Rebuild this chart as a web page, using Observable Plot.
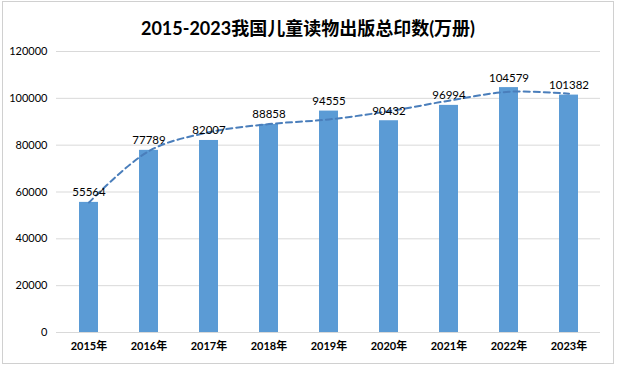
<!DOCTYPE html>
<html>
<head>
<meta charset="utf-8">
<script src="https://cdn.jsdelivr.net/npm/d3@7"></script>
<script src="https://cdn.jsdelivr.net/npm/@observablehq/plot@0.6"></script>
<style>
  html, body { margin: 0; padding: 0; background: #fff; }
  #chart {
    position: absolute; left: 2px; top: 1px;
    width: 610px; height: 361px;
    border: 1px solid #d0d0d0;
    font-family: Lato, "Noto Sans CJK SC", sans-serif;
  }
  #title {
    height: 40px; line-height: 52px; text-align: center;
    font-size: 18px; font-weight: bold; color: #000;
    font-family: Lato, "Noto Sans CJK SC", sans-serif;
  }
  svg { display: block; }
</style>
</head>
<body>
<div id="chart">
  <div id="title">2015-2023我国儿童读物出版总印数(万册)</div>
</div>
<script>
const years = ["2015年", "2016年", "2017年", "2018年", "2019年", "2020年", "2021年", "2022年", "2023年"];
const values = [55564, 77789, 82007, 88858, 94555, 90432, 96994, 104579, 101382];
const trend = [55500, 77500, 85500, 89000, 91000, 94500, 99000, 102800, 102000];
const yTicks = [0, 20000, 40000, 60000, 80000, 100000, 120000];

const data = years.map((y, i) => ({year: y, value: values[i], trend: trend[i]}));

const chart = Plot.plot({
  width: 610,
  height: 321,
  marginLeft: 53,
  marginRight: 13,
  marginTop: 9,
  marginBottom: 31,
  style: {fontFamily: 'Lato, "Noto Sans CJK SC", sans-serif', fontSize: "11px", color: "#000", background: "#fff"},
  x: {domain: years, paddingInner: 0.69, paddingOuter: 0.345, label: null},
  y: {domain: [0, 120000], ticks: yTicks, label: null},
  marks: [
    Plot.gridY(yTicks.filter(d => d > 0), {stroke: "#d9d9d9", strokeOpacity: 1}),
    Plot.ruleY([0], {stroke: "#d9d9d9"}),
    Plot.barY(data, {x: "year", y: "value", fill: "#5b9bd5"}),
    Plot.line(data, {x: "year", y: "trend", stroke: "#4a7ebb", strokeWidth: 2, strokeDasharray: "6,4", curve: "catmull-rom"}),
    Plot.text(data, {x: "year", y: "value", text: d => String(d.value), lineAnchor: "bottom", dy: -6, fontSize: 11.5, fill: "#000"}),
    Plot.axisY({ticks: yTicks, tickSize: 0, tickPadding: 9, tickFormat: d => String(d), fontSize: 11, label: null}),
    Plot.axisX({tickSize: 0, tickPadding: 10, fontSize: 11, fontWeight: "bold", label: null})
  ]
});
document.getElementById("chart").appendChild(chart);
</script>
</body>
</html>
